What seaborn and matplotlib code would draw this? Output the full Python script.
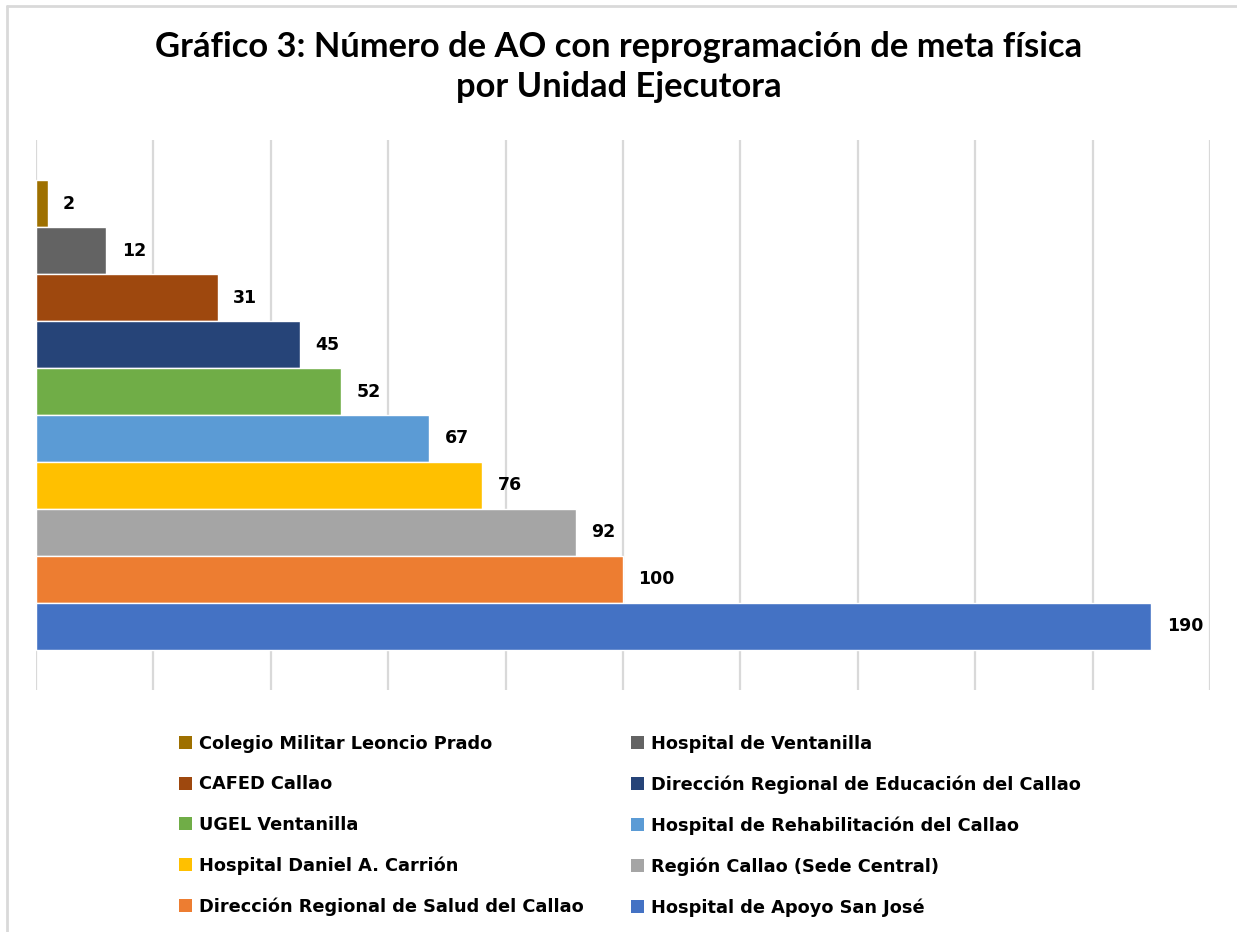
import pandas as pd
import numpy as np
import matplotlib.pyplot as plt
import seaborn as sns
from matplotlib.patches import Patch
from matplotlib.lines import Line2D

# ---------------- DATA ----------------
unidades = [
    "Colegio Militar Leoncio Prado",
    "Hospital de Ventanilla",
    "CAFED Callao",
    "Dirección Regional de Educación del Callao",
    "UGEL Ventanilla",
    "Hospital de Rehabilitación del Callao",
    "Hospital Daniel A. Carrión",
    "Región Callao (Sede Central)",
    "Dirección Regional de Salud del Callao",
    "Hospital de Apoyo San José",
]
num_ao = [2, 12, 31, 45, 52, 67, 76, 92, 100, 190]
colores = ["#9E7000", "#636363", "#9E480E", "#264478", "#70AD47",
           "#5B9BD5", "#FFC000", "#A5A5A5", "#ED7D31", "#4472C4"]

titulo = "Gráfico 3: Número de AO con reprogramación de meta física\npor Unidad Ejecutora"

df = pd.DataFrame({"Unidad": unidades, "AO": num_ao})
palette = dict(zip(unidades, colores))

# ---------------- PLOT ----------------
sns.set_style("white")
plt.rcParams["font.family"] = ["DejaVu Sans"]
plt.rcParams["text.color"] = "black"

fig = plt.figure(figsize=(12.37, 9.32), dpi=100)
ax = fig.add_axes([36 / 1237, 1 - 690 / 932, (1210 - 36) / 1237, 550 / 932])

sns.barplot(data=df, y="Unidad", x="AO", hue="Unidad", order=unidades,
            palette=palette, orient="h", width=1.0, dodge=False,
            legend=False, ax=ax, saturation=1)

ax.set_xlim(0, 200)
ax.set_ylim(9.5 + 0.86, -0.5 - 0.86)
ax.set_xticks(np.arange(0, 201, 20))
ax.grid(axis="x", color="#D9D9D9", linewidth=1.6)
ax.set_axisbelow(True)
ax.tick_params(left=False, bottom=False, labelleft=False, labelbottom=False)
ax.set_xlabel("")
ax.set_ylabel("")
for s in ax.spines.values():
    s.set_visible(False)

for i, v in enumerate(num_ao):
    ax.annotate(str(v), xy=(v, i), xytext=(11, 0), textcoords="offset points",
                ha="left", va="center", fontsize=12.5, fontweight="bold",
                color="black")

fig.text(0.5, 1 - 67 / 932, titulo, ha="center", va="center",
         fontsize=24.8, fontweight="bold", family=["Lato", "DejaVu Sans"],
         linespacing=1.3, color="black")

# legend row-wise like the original (two columns)
handles = [Patch(facecolor=c, edgecolor="none") for c in colores]
orden = [0, 2, 4, 6, 8, 1, 3, 5, 7, 9]
fig.legend([handles[i] for i in orden], [unidades[i] for i in orden],
           loc="upper left", bbox_to_anchor=(163 / 1237, 1 - 719 / 932),
           ncol=2, frameon=False, handlelength=0.73, handleheight=0.73,
           handletextpad=0.4, columnspacing=2.66, labelspacing=1.26,
           prop={"weight": "bold", "size": 12.8})

# light border top and left (the image is cropped)
fig.add_artist(Line2D([7 / 1237, 7 / 1237], [0, 1 - 6 / 932],
                      transform=fig.transFigure, color="#D9D9D9", linewidth=2))
fig.add_artist(Line2D([7 / 1237, 1], [1 - 6 / 932, 1 - 6 / 932],
                      transform=fig.transFigure, color="#D9D9D9", linewidth=2))

fig.savefig("out.png", dpi=100)
